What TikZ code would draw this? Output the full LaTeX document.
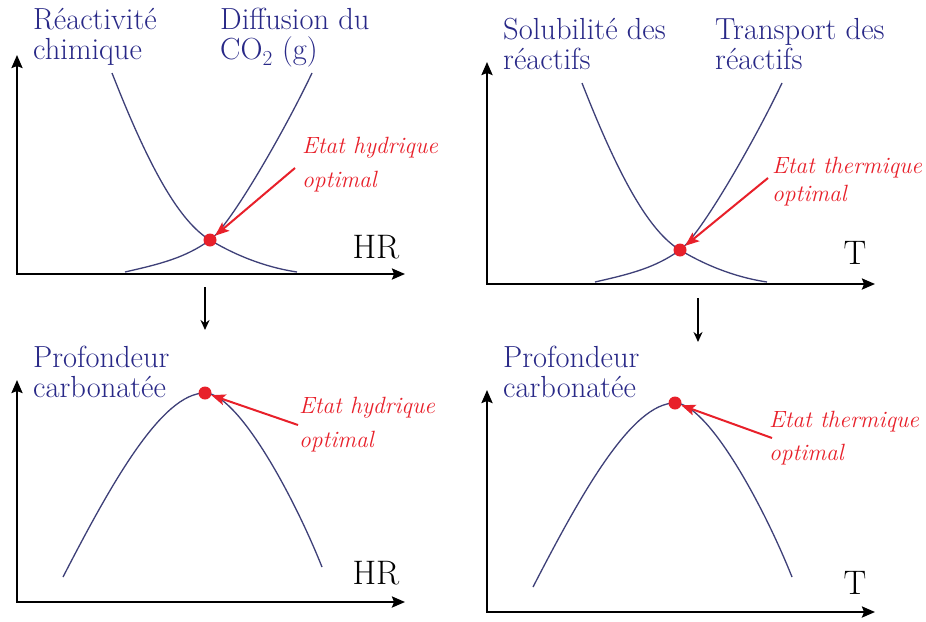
\documentclass[tikz,border=0pt]{standalone}
\usepackage{fontspec}
\usetikzlibrary{arrows.meta}
\definecolor{lblue}{RGB}{40,40,135}
\definecolor{cblue}{RGB}{62,64,120}
\definecolor{ored}{RGB}{232,32,42}
\begin{document}
\begin{tikzpicture}[x=1pt,y=-1pt,
 axis/.style={line width=2.3pt,line join=miter,{Stealth[length=13pt,width=11pt,inset=2pt]}-{Stealth[length=13pt,width=11pt,inset=2pt]}},
 curveline/.style={line width=1.3pt,cblue},
 redarrow/.style={ored,line width=2pt,-{Stealth[length=14pt,width=11pt,inset=3pt]}},
 optdot/.style={circle,fill=ored,inner sep=0pt,minimum size=13pt},
 bluelabel/.style={lblue,anchor=north west,inner sep=0pt,align=left,font=\fontsize{30.5}{30}\selectfont},
 redlabel/.style={ored,anchor=north west,inner sep=0pt,align=left,font=\fontsize{23.5}{#1}\selectfont\itshape},
 varlabel/.style={black,inner sep=0pt,font=\fontsize{34}{34}\selectfont},
 downarrow/.style={line width=2pt,-{Stealth[length=10pt,width=9pt]}}
]
\fill[white] (0,0) rectangle (926,621);
\useasboundingbox (0,0) rectangle (926,621);

% ---------- top left ----------
\begin{scope}[shift={(17,274)}]
 \coordinate (tlO) at (0,0);
 \coordinate (tlY) at (0,-219);
 \coordinate (tlX) at (388,0);
 \draw[axis] (tlY) -- (tlO) -- (tlX);
 \draw[curveline] (95,-201) .. controls (133,-104) and (163,-52) .. (193,-34) .. controls (223,-16) and (253,-6) .. (280,-2);
 \draw[curveline] (108,-2) .. controls (143,-10) and (168,-16) .. (193,-34) .. controls (213,-48) and (268,-144) .. (295,-201);
 \node[optdot] (tldot) at (193,-34) {};
 \node[redlabel=34] (tltxt) at (285,-137) {Etat hydrique\\optimal};
 \coordinate (tltail) at (278,-106);
 \draw[redarrow] (tltail) -- (tldot);
 \node[varlabel] (tlvar) at (359,-27) {HR};
 \node[bluelabel] (tlA) at (16,-266) {Réactivité\\chimique};
 \node[bluelabel] (tlB) at (203,-266) {Diffusion du\\CO\textsubscript{2} (g)};
\end{scope}

% ---------- top right ----------
\begin{scope}[shift={(487,284)}]
 \coordinate (trO) at (0,0);
 \coordinate (trY) at (0,-222);
 \coordinate (trX) at (388,0);
 \draw[axis] (trY) -- (trO) -- (trX);
 \draw[curveline] (95,-201) .. controls (133,-104) and (163,-52) .. (193,-34) .. controls (223,-16) and (253,-6) .. (280,-2);
 \draw[curveline] (108,-2) .. controls (143,-10) and (168,-16) .. (193,-34) .. controls (213,-48) and (268,-144) .. (295,-201);
 \node[optdot] (trdot) at (193,-34) {};
 \node[redlabel=28] (trtxt) at (285,-127) {Etat thermique\\optimal};
 \coordinate (trtail) at (281,-106);
 \draw[redarrow] (trtail) -- (trdot);
 \node[varlabel] (trvar) at (368,-31) {T};
 \node[bluelabel] (trA) at (16,-266) {Solubilité des\\réactifs};
 \node[bluelabel] (trB) at (228,-266) {Transport des\\réactifs};
\end{scope}

% ---------- bottom left ----------
\begin{scope}[shift={(17,602)}]
 \coordinate (blO) at (0,0);
 \coordinate (blY) at (0,-222);
 \coordinate (blX) at (388,0);
 \draw[axis] (blY) -- (blO) -- (blX);
 \draw[curveline] (46,-25) .. controls (95,-120) and (145,-209) .. (188,-209) .. controls (220,-209) and (275,-110) .. (305,-35);
 \node[optdot] (bldot) at (188,-209) {};
 \node[redlabel=34] (bltxt) at (282,-205) {Etat hydrique\\optimal};
 \coordinate (bltail) at (281,-177);
 \draw[redarrow] (bltail) -- (bldot);
 \node[varlabel] (blvar) at (359,-29) {HR};
 \node[bluelabel] (blA) at (16,-256) {Profondeur\\carbonatée};
\end{scope}

% ---------- bottom right ----------
\begin{scope}[shift={(487,612)}]
 \coordinate (brO) at (0,0);
 \coordinate (brY) at (0,-222);
 \coordinate (brX) at (388,0);
 \draw[axis] (brY) -- (brO) -- (brX);
 \draw[curveline] (46,-25) .. controls (95,-120) and (145,-209) .. (188,-209) .. controls (220,-209) and (275,-110) .. (305,-35);
 \node[optdot] (brdot) at (188,-209) {};
 \node[redlabel=33] (brtxt) at (282,-201) {Etat thermique\\optimal};
 \coordinate (brtail) at (285,-174);
 \draw[redarrow] (brtail) -- (brdot);
 \node[varlabel] (brvar) at (368,-29) {T};
 \node[bluelabel] (brA) at (16,-266) {Profondeur\\carbonatée};
\end{scope}

% ---------- down arrows ----------
\coordinate (lA) at (205,287);
\coordinate (lB) at (205,330);
\coordinate (rA) at (698,298);
\coordinate (rB) at (698,342);
\draw[downarrow] (lA) -- (lB);
\draw[downarrow] (rA) -- (rB);
\end{tikzpicture}
\end{document}
